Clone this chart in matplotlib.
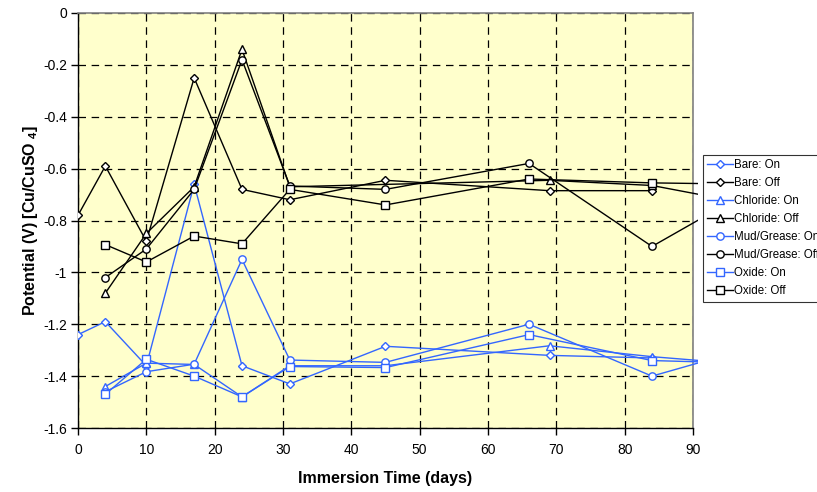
import matplotlib
matplotlib.use('Agg')
import matplotlib.pyplot as plt
from matplotlib.patches import Rectangle
from matplotlib.ticker import FormatStrFormatter, MultipleLocator

plt.rcParams['font.family'] = ['Liberation Sans', 'DejaVu Sans']
plt.rcParams['axes.unicode_minus'] = False
plt.rcParams['mathtext.fontset'] = 'custom'
plt.rcParams['mathtext.bf'] = 'Liberation Sans:bold'
plt.rcParams['mathtext.rm'] = 'Liberation Sans:bold'
plt.rcParams['mathtext.default'] = 'bf'

# immersion times (days) for each series
t_bare = [0, 4, 10, 17, 24, 31, 45, 69, 84]
t_chlor = [4, 10, 17, 24, 31, 45, 69, 84, 98]
t_chlor_off = [4, 10, 17, 24, 31, 69, 84, 98]
t_mud = [4, 10, 17, 24, 31, 45, 66, 84, 98]
t_oxide = [4, 10, 17, 24, 31, 45, 66, 84, 98]

# potentials (V)
bare_on = [-1.24, -1.19, -1.36, -0.66, -1.36, -1.43, -1.285, -1.32, -1.33]
bare_off = [-0.78, -0.59, -0.88, -0.25, -0.68, -0.72, -0.645, -0.685, -0.685]
chlor_on = [-1.44, -1.35, -1.355, -1.48, -1.36, -1.36, -1.283, -1.325, -1.355]
chlor_off = [-1.08, -0.85, -0.67, -0.14, -0.67, -0.645, -0.665, -0.735]
mud_on = [-1.46, -1.383, -1.354, -0.95, -1.338, -1.347, -1.20, -1.40, -1.295]
mud_off = [-1.02, -0.91, -0.68, -0.18, -0.667, -0.68, -0.58, -0.90, -0.69]
oxide_on = [-1.47, -1.335, -1.40, -1.48, -1.363, -1.367, -1.24, -1.34, -1.35]
oxide_off = [-0.893, -0.96, -0.86, -0.89, -0.68, -0.74, -0.64, -0.655, -0.66]

blue = '#3366FF'
black = '#000000'

series = [
    ('Bare: On', t_bare, bare_on, blue, 'D', 4),
    ('Bare: Off', t_bare, bare_off, black, 'D', 4),
    ('Chloride: On', t_chlor, chlor_on, blue, '^', 5.3),
    ('Chloride: Off', t_chlor_off, chlor_off, black, '^', 5.3),
    ('Mud/Grease: On', t_mud, mud_on, blue, 'o', 5.3),
    ('Mud/Grease: Off', t_mud, mud_off, black, 'o', 5.3),
    ('Oxide: On', t_oxide, oxide_on, blue, 's', 5.3),
    ('Oxide: Off', t_oxide, oxide_off, black, 's', 5.3),
]

fig = plt.figure(figsize=(8.17, 4.92), dpi=100)
ax = fig.add_axes([78/817, 1-428/492, 615/817, 415/492])
ax.set_facecolor('#FFFFCC')

clip = Rectangle((0, 0), 1.008, 1.0, transform=ax.transAxes, visible=False)
ax.add_patch(clip)

for name, t, v, c, m, ms in series:
    line, = ax.plot(t, v, color=c, marker=m, markersize=ms, markerfacecolor='white',
                    markeredgecolor=c, markeredgewidth=1, linewidth=1, label=name,
                    zorder=3)
    line.set_clip_path(clip)

ax.set_xlim(0, 90)
ax.set_ylim(-1.6, 0)
ax.xaxis.set_major_locator(MultipleLocator(10))
ax.yaxis.set_major_locator(MultipleLocator(0.2))
ax.yaxis.set_major_formatter(FormatStrFormatter('%g'))
ax.grid(True, color='black', linestyle=(0, (6, 4.5)), linewidth=0.9)
ax.set_axisbelow(True)

for s in ['top', 'right']:
    ax.spines[s].set_color('#808080')
    ax.spines[s].set_linewidth(1.2)
for s in ['left', 'bottom']:
    ax.spines[s].set_color('black')
    ax.spines[s].set_linewidth(1)

ax.tick_params(axis='both', direction='out', length=5, width=1, labelsize=10)
ax.tick_params(axis='x', pad=6)
ax.tick_params(axis='y', pad=3)

ax.set_xlabel('Immersion Time (days)', fontsize=11.5, fontweight='bold', labelpad=10)
ax.set_ylabel('Potential (V) [Cu/CuSO $_4$]', fontsize=11.5, fontweight='bold', labelpad=2)

leg = fig.legend(loc='upper left', bbox_to_anchor=(703/817, 1-155/492), fontsize=8.3,
                 frameon=True, fancybox=False, edgecolor='black', handlelength=2.2,
                 handletextpad=0.1, labelspacing=0.52, borderpad=0.38, borderaxespad=0)
leg.get_frame().set_linewidth(0.8)

fig.savefig('out.png', dpi=100)
